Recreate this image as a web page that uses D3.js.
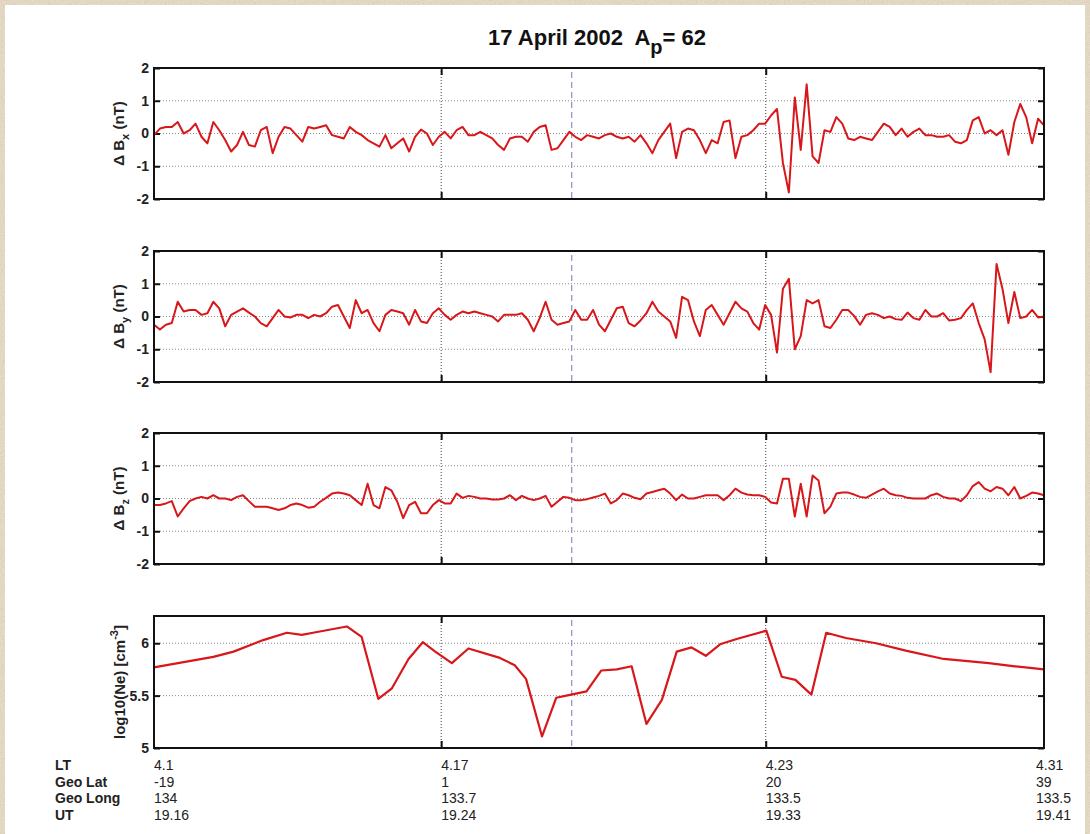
<!DOCTYPE html>
<html>
<head>
<meta charset="utf-8">
<script src="https://cdn.jsdelivr.net/npm/d3@7"></script>
<style>
  body { margin: 0; background: #e6dcc8; }
  svg { display: block; font-family: "Liberation Sans", Arial, sans-serif; }
</style>
</head>
<body>
<svg id="chart" width="1090" height="834"></svg>
<script>
// magnetic residuals, one sample every 10 s from the start of the pass (19:16 UT)
const step = 10;
const bx = [
  -0.05, 0.15, 0.2, 0.2, 0.35, 0, 0.1, 0.3, -0.1, -0.3,
  0.35, 0.1, -0.2, -0.55, -0.35, 0.05, -0.35, -0.4, 0.1, 0.2,
  -0.6, -0.1, 0.2, 0.15, -0.05, -0.25, 0.2, 0.15, 0.2, 0.25,
  -0.05, -0.1, -0.15, 0.2, 0.05, -0.05, -0.2, -0.3, -0.4, -0.05,
  -0.45, -0.3, -0.15, -0.55, -0.1, 0.12, 0, -0.35, -0.1, 0.05,
  -0.15, 0.1, 0.2, -0.05, -0.05, 0.05, -0.05, -0.15, -0.35, -0.5,
  -0.15, -0.1, -0.1, -0.25, 0.05, 0.2, 0.25, -0.5, -0.45, -0.2,
  0.05, -0.1, -0.2, -0.05, -0.1, -0.15, -0.05, 0, -0.1, -0.15,
  -0.1, -0.25, -0.05, -0.3, -0.6, -0.2, 0.05, 0.3, -0.75, 0.05,
  0.15, 0.1, -0.2, -0.6, -0.2, -0.3, 0.35, 0.4, -0.75, -0.1,
  -0.05, 0.1, 0.3, 0.3, 0.55, 0.75, -0.9, -1.8, 1.1, -0.5,
  1.5, -0.7, -0.9, 0.1, 0.05, 0.5, 0.3, -0.15, -0.2, -0.1,
  -0.15, -0.2, 0.05, 0.3, 0.2, -0.05, 0.15, -0.1, 0.05, 0.15,
  -0.05, -0.05, -0.1, -0.1, -0.05, -0.25, -0.3, -0.2, 0.4, 0.5,
  0, 0.1, -0.05, 0.1, -0.65, 0.35, 0.9, 0.5, -0.3, 0.45, 0.25
];
const by = [
  -0.25, -0.4, -0.25, -0.2, 0.45, 0.15, 0.2, 0.2, 0.05, 0.1,
  0.45, 0.25, -0.3, 0.05, 0.15, 0.25, 0.12, 0, -0.2, -0.3,
  -0.05, 0.2, 0, -0.03, 0.05, 0.05, -0.05, 0.05, 0, 0.1,
  0.3, 0.35, 0, -0.35, 0.5, 0.1, 0.2, -0.2, -0.45, 0.05,
  0.2, 0.15, 0.1, -0.25, 0.2, -0.15, -0.2, 0.1, 0.25, 0.05,
  -0.1, 0.05, 0.15, 0.1, 0.15, 0.1, 0.05, 0, -0.15, 0.05,
  0.05, 0.05, 0.1, -0.1, -0.45, -0.05, 0.45, -0.1, -0.25, -0.2,
  -0.15, 0.2, -0.1, -0.1, 0.2, -0.25, -0.45, -0.1, 0.25, 0.3,
  -0.2, -0.3, -0.12, 0.1, 0.45, 0.15, 0, -0.15, -0.65, 0.6,
  0.5, -0.15, -0.6, 0.2, 0.35, 0.05, -0.25, 0.1, 0.45, 0.25,
  0.15, -0.2, -0.4, 0.35, 0.05, -1.1, 0.85, 1.15, -1.0, -0.6,
  0.5, 0.4, 0.5, -0.3, -0.35, -0.1, 0.2, 0.2, 0.02, -0.25,
  0.05, 0.1, 0.05, -0.05, 0, -0.08, -0.1, 0.12, -0.05, -0.1,
  0.2, 0, 0, 0.1, -0.12, -0.1, -0.05, 0.2, 0.4, -0.2,
  -0.7, -1.7, 1.6, 0.85, -0.2, 0.75, -0.05, 0, 0.2, -0.03, 0
];
const bz = [
  -0.2, -0.2, -0.15, -0.08, -0.55, -0.3, -0.08, 0, 0.05, 0,
  0.1, 0, 0, -0.05, 0.05, 0.1, -0.08, -0.25, -0.25, -0.25,
  -0.3, -0.35, -0.3, -0.2, -0.15, -0.2, -0.28, -0.25, -0.1, 0.02,
  0.15, 0.18, 0.15, 0.1, -0.05, -0.2, 0.45, -0.2, -0.3, 0.35,
  0.25, -0.1, -0.6, -0.2, -0.1, -0.45, -0.45, -0.2, -0.05, -0.15,
  -0.15, 0.15, 0.02, 0.08, 0.05, 0, 0, -0.03, -0.03, 0,
  0.1, -0.05, 0.08, 0, -0.05, 0, 0.08, -0.25, -0.1, 0.05,
  0.02, -0.05, -0.05, -0.02, 0.03, 0.08, 0.15, -0.15, -0.05, 0.15,
  0.1, 0.02, -0.02, 0.15, 0.2, 0.25, 0.3, 0.15, -0.05, 0.12,
  0, 0, 0.05, 0.1, 0.1, 0.1, -0.05, 0.1, 0.3, 0.18,
  0.12, 0.1, 0.1, 0.05, -0.12, -0.15, 0.6, 0.6, -0.55, 0.45,
  -0.55, 0.7, 0.55, -0.45, -0.25, 0.15, 0.18, 0.18, 0.12, 0.05,
  0.02, 0.12, 0.22, 0.3, 0.15, 0.1, 0.08, 0.02, 0, 0,
  0, 0.1, 0.15, 0.05, 0, 0, -0.08, 0.1, 0.38, 0.5,
  0.3, 0.22, 0.35, 0.3, 0.1, 0.35, 0, 0.08, 0.18, 0.15, 0.1
];
// electron density: [seconds from 19:16 UT, log10 Ne]
const ne = [
  [0, 5.77], [100, 5.87], [134, 5.92], [184, 6.03], [224, 6.10], [249, 6.08],
  [268, 6.10], [325, 6.16], [350, 6.06], [378, 5.47], [401, 5.57], [429, 5.85],
  [453, 6.01], [474, 5.92], [502, 5.81], [530, 5.95], [583, 5.86], [608, 5.79],
  [627, 5.66], [654, 5.11], [678, 5.48], [703, 5.51], [729, 5.54], [754, 5.74],
  [780, 5.75], [805, 5.78], [830, 5.23], [856, 5.46], [881, 5.92], [906, 5.96],
  [930, 5.88], [954, 5.99], [982, 6.04], [1032, 6.12], [1058, 5.68], [1081, 5.65],
  [1108, 5.51], [1133, 6.10], [1166, 6.05], [1217, 6.00], [1267, 5.93], [1331, 5.85],
  [1407, 5.81], [1451, 5.78], [1500, 5.75]
];
const tickTimes = [0, 484, 1031, 1500];
const markerTime = 704;
const rowNames = ["LT", "Geo Lat", "Geo Long", "UT"];
const ltLabels = ["4.1", "4.17", "4.23", "4.31"];
const latLabels = ["-19", "1", "20", "39"];
const lonLabels = ["134", "133.7", "133.5", "133.5"];
const utLabels = ["19.16", "19.24", "19.33", "19.41"];

const width = 1090, height = 834;
const left = 154, right = 1044, ph = 131;
const red = "#d8171b";

const svg = d3.select("#chart");

// paper background
const defs = svg.append("defs");
const f = defs.append("filter").attr("id", "paper").attr("x", 0).attr("y", 0).attr("width", 1).attr("height", 1);
f.append("feTurbulence").attr("type", "fractalNoise").attr("baseFrequency", 0.9).attr("numOctaves", 2).attr("seed", 4);
f.append("feColorMatrix").attr("type", "matrix")
  .attr("values", "0 0 0 0 0.55 0 0 0 0 0.47 0 0 0 0 0.36 0 0 0 -2 1.3");
svg.append("rect").attr("width", width).attr("height", height).attr("fill", "#e6dcc8");
svg.append("rect").attr("width", width).attr("height", height).attr("filter", "url(#paper)").attr("opacity", 0.45);
svg.append("rect").attr("x", 5).attr("y", 5).attr("width", 1080).attr("height", height - 5).attr("fill", "#fff");

const x = d3.scaleLinear().domain([0, 1500]).range([left, right]);
const innerTicks = tickTimes.slice(1, -1);

function panel(top, h, y, yTicks, grid) {
  const g = svg.append("g");
  // horizontal grid
  g.selectAll(".hg").data(grid).join("line")
    .attr("x1", left).attr("x2", right)
    .attr("y1", d => y(d)).attr("y2", d => y(d))
    .attr("stroke", "#8a8a8a").attr("stroke-dasharray", "1,2");
  // vertical grid at time ticks
  g.selectAll(".vg").data(innerTicks).join("line")
    .attr("x1", d => x(d)).attr("x2", d => x(d))
    .attr("y1", top).attr("y2", top + h)
    .attr("stroke", "#444").attr("stroke-dasharray", "1,2");
  // pass marker
  g.append("line")
    .attr("x1", x(markerTime)).attr("x2", x(markerTime))
    .attr("y1", top + 4).attr("y2", top + h)
    .attr("stroke", "#8a8fc0").attr("stroke-width", 1.2).attr("stroke-dasharray", "6,4");

  const la = g.append("g").attr("transform", `translate(${left},0)`)
    .call(d3.axisLeft(y).tickValues(yTicks).tickSize(-6).tickPadding(5).tickFormat(d => String(d)));
  const ra = g.append("g").attr("transform", `translate(${right},0)`)
    .call(d3.axisRight(y).tickValues(yTicks).tickSize(-6).tickFormat(""));
  const ta = g.append("g").attr("transform", `translate(0,${top})`)
    .call(d3.axisTop(x).tickValues(innerTicks).tickSize(-7).tickFormat(""));
  const ba = g.append("g").attr("transform", `translate(0,${top + h})`)
    .call(d3.axisBottom(x).tickValues(innerTicks).tickSize(-7).tickFormat(""));
  [la, ra, ta, ba].forEach(a => {
    a.select(".domain").remove();
    a.selectAll(".tick line").attr("stroke", "#111").attr("stroke-width", 2);
  });
  la.selectAll("text").attr("font-size", 14).attr("font-weight", "bold").attr("fill", "#222")
    .attr("font-family", "Liberation Sans, Arial, sans-serif");

  g.append("rect").attr("x", left).attr("y", top).attr("width", right - left).attr("height", h)
    .attr("fill", "none").attr("stroke", "#111").attr("stroke-width", 2);
  return g;
}

function yLabel(cx, cy, parts) {
  const t = svg.append("text")
    .attr("transform", `translate(${cx},${cy}) rotate(-90)`)
    .attr("text-anchor", "middle").attr("font-weight", "bold").attr("font-size", 15).attr("fill", "#222")
    .style("white-space", "pre");
  parts.forEach(p => t.append("tspan").attr("dy", p.dy || 0).attr("font-size", p.size || 15).text(p.text));
}

// three magnetic field panels
const comps = [
  { values: bx, c: "x", top: 68 },
  { values: by, c: "y", top: 251 },
  { values: bz, c: "z", top: 433 }
];
comps.forEach(p => {
  const y = d3.scaleLinear().domain([-2, 2]).range([p.top + ph, p.top]);
  const g = panel(p.top, ph, y, [-2, -1, 0, 1, 2], [-1, 0, 1]);
  g.insert("path", "rect")
    .datum(p.values)
    .attr("fill", "none").attr("stroke", red).attr("stroke-width", 2).attr("stroke-linejoin", "round")
    .attr("d", d3.line().x((d, i) => x(i * step)).y(d => y(d)));
  yLabel(124, p.top + ph / 2, [
    { text: "\u0394 B" }, { text: p.c, dy: 5, size: 11 }, { text: " (nT)", dy: -5 }
  ]);
});

// electron density panel
const neTop = 616, neH = 132;
const yNe = d3.scaleLinear().domain([5, 6.26]).range([neTop + neH, neTop]);
const gNe = panel(neTop, neH, yNe, [5, 5.5, 6], [5, 5.5, 6]);
gNe.insert("path", "rect")
  .datum(ne)
  .attr("fill", "none").attr("stroke", red).attr("stroke-width", 2.2).attr("stroke-linejoin", "round")
  .attr("d", d3.line().x(d => x(d[0])).y(d => yNe(d[1])));
yLabel(125, neTop + neH / 2, [
  { text: "log10(Ne) [cm" }, { text: "-3", dy: -7, size: 11 }, { text: "]", dy: 7 }
]);

// title
const title = svg.append("text").attr("x", 597).attr("y", 45).attr("text-anchor", "middle")
  .attr("font-weight", "bold").attr("font-size", 22).attr("fill", "#111").style("white-space", "pre");
title.append("tspan").text("17 April 2002  A");
title.append("tspan").attr("dy", 9).attr("font-size", 20).text("p");
title.append("tspan").attr("dy", -9).text("= 62");

// orbit annotation rows
const rows = [ltLabels, latLabels, lonLabels, utLabels];
const rowY = [770, 786.5, 803, 819.5];
rows.forEach((labels, r) => {
  svg.append("text").attr("x", 55).attr("y", rowY[r])
    .attr("font-size", 14).attr("font-weight", "bold").attr("fill", "#222").text(rowNames[r]);
  svg.append("g").selectAll("text").data(labels).join("text")
    .attr("x", (d, i) => Math.min(x(tickTimes[i]), right - 8))
    .attr("y", rowY[r])
    .attr("font-size", 14).attr("fill", "#222")
    .text(d => d);
});
</script>
</body>
</html>
